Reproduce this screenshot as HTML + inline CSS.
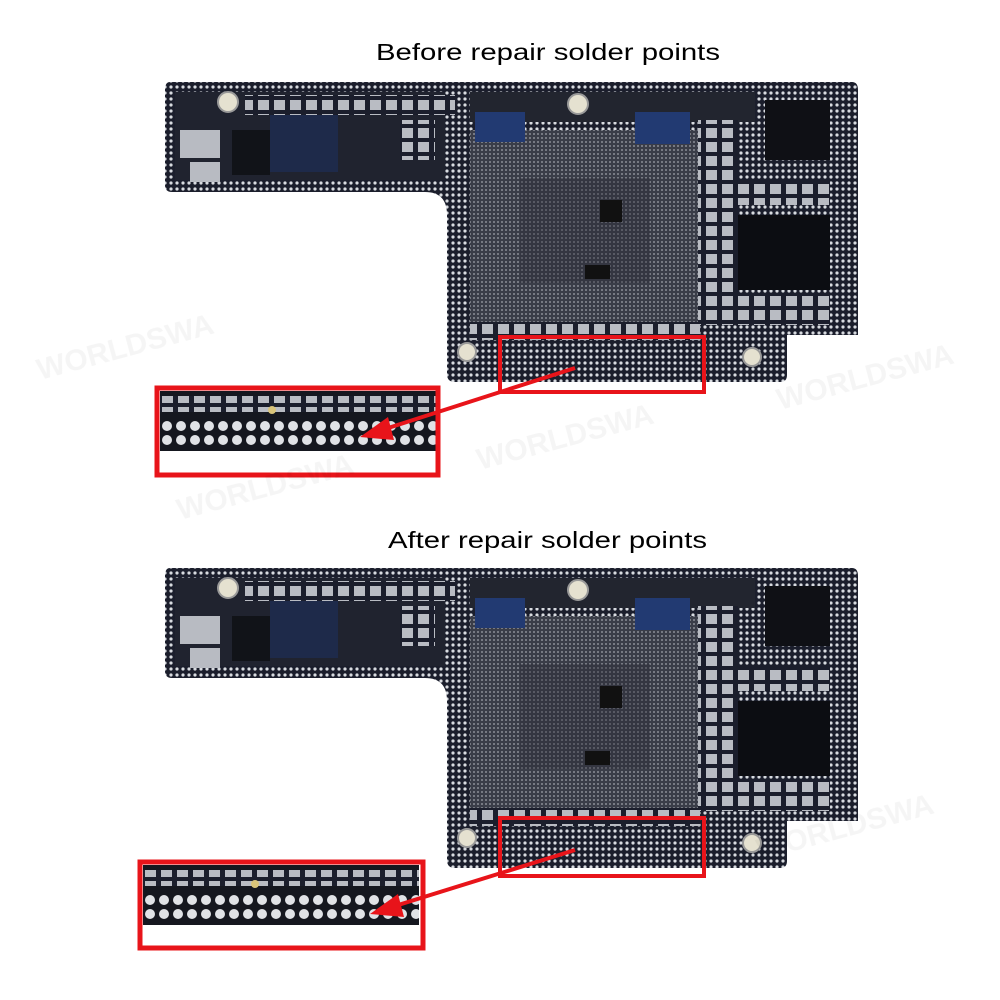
<!DOCTYPE html>
<html><head><meta charset="utf-8"><style>
html,body{margin:0;padding:0;background:#fff;width:1000px;height:1000px;overflow:hidden}
svg{display:block}
</style></head><body>
<svg width="1000" height="1000" viewBox="0 0 1000 1000" xmlns="http://www.w3.org/2000/svg">
<defs>
<pattern id="dots" width="6" height="6" patternUnits="userSpaceOnUse"><rect width="6" height="6" fill="#1b1e2c"/><circle cx="3" cy="3" r="1.6" fill="#d8dbe0"/></pattern>
<pattern id="grid" width="4" height="4" patternUnits="userSpaceOnUse"><rect width="4" height="4" fill="#3a3d48"/><circle cx="2" cy="2" r="1" fill="#8a8d96"/></pattern>
<pattern id="bigdots" width="14" height="14" patternUnits="userSpaceOnUse"><rect width="14" height="14" fill="#15171f"/><circle cx="7" cy="7" r="5" fill="#e0e2e6"/></pattern>
<pattern id="comps" width="16" height="14" patternUnits="userSpaceOnUse"><rect width="16" height="14" fill="#1b1e2c"/><rect x="2" y="2" width="11" height="10" fill="#b9bcc3"/></pattern>
<g id="board">
  <path d="M170,82 L852,82 Q858,82 858,90 L858,335 L787,335 L787,375 Q787,382 780,382 L455,382 Q447,382 447,374 L447,215 Q447,192 425,192 L172,192 Q165,192 165,185 L165,90 Q165,82 170,82Z" fill="url(#dots)"/>
  <rect x="175" y="92" width="270" height="88" fill="#20232f"/>
  <rect x="470" y="92" width="285" height="30" fill="#22252f"/>
  <rect x="470" y="130" width="228" height="196" fill="url(#grid)"/>
  <rect x="520" y="178" width="130" height="105" fill="#2a2c36"/>
  <rect x="520" y="178" width="130" height="105" fill="url(#grid)" opacity="0.6"/>
  <rect x="600" y="200" width="22" height="22" fill="#111"/>
  <rect x="585" y="265" width="25" height="14" fill="#111"/>
  <rect x="270" y="110" width="68" height="62" fill="#1e2a4a"/>
  <rect x="232" y="130" width="38" height="45" fill="#111318"/>
  <rect x="475" y="112" width="50" height="30" fill="#223a72"/>
  <rect x="635" y="112" width="55" height="32" fill="#223a72"/>
  <rect x="765" y="100" width="65" height="60" fill="#0f1015"/>
  <rect x="735" y="215" width="95" height="75" fill="#0c0d12"/>
  <rect x="698" y="120" width="40" height="205" fill="url(#comps)"/>
  <rect x="730" y="180" width="100" height="25" fill="url(#comps)"/>
  <rect x="730" y="295" width="100" height="30" fill="url(#comps)"/>
  <rect x="245" y="95" width="210" height="20" fill="url(#comps)"/>
  <rect x="180" y="130" width="40" height="28" fill="#b8bbc2"/>
  <rect x="190" y="162" width="30" height="20" fill="#b8bbc2"/>
  <rect x="400" y="120" width="35" height="40" fill="url(#comps)"/>
  <rect x="470" y="322" width="230" height="18" fill="url(#comps)"/>
  <circle cx="228" cy="102" r="10" fill="#e5e1d0" stroke="#999" stroke-width="2"/>
  <circle cx="578" cy="104" r="10" fill="#e5e1d0" stroke="#999" stroke-width="2"/>
  <circle cx="467" cy="352" r="9" fill="#e5e1d0" stroke="#999" stroke-width="2"/>
  <circle cx="752" cy="357" r="9" fill="#e5e1d0" stroke="#999" stroke-width="2"/>
  <rect x="500" y="355" width="205" height="25" fill="url(#dots)"/>
</g>
<g id="inset">
  <rect x="0" y="0" width="276" height="60" fill="#15171f"/>
  <rect x="0" y="5" width="276" height="16" fill="url(#comps)"/>
  <rect x="0" y="26" width="276" height="30" fill="url(#bigdots)"/>
  <circle cx="112" cy="19" r="4" fill="#d9c47a"/>
</g>
</defs>

<text x="376" y="60" textLength="344" lengthAdjust="spacingAndGlyphs" font-family="Liberation Sans, sans-serif" font-size="23" fill="#000">Before repair solder points</text>
<use href="#board"/>
<rect x="500" y="337" width="204" height="55" fill="none" stroke="#e8141a" stroke-width="4"/>
<use href="#inset" x="160" y="391"/>
<rect x="157" y="388" width="281" height="87" fill="none" stroke="#e8141a" stroke-width="5"/>
<line x1="575" y1="368" x2="385" y2="429" stroke="#e8141a" stroke-width="4"/>
<polygon points="360,437 388,417 394,440" fill="#e8141a"/>

<text x="388" y="548" textLength="319" lengthAdjust="spacingAndGlyphs" font-family="Liberation Sans, sans-serif" font-size="23" fill="#000">After repair solder points</text>
<use href="#board" y="486"/>
<rect x="500" y="818" width="204" height="58" fill="none" stroke="#e8141a" stroke-width="4"/>
<use href="#inset" x="143" y="865"/>
<rect x="140" y="862" width="283" height="86" fill="none" stroke="#e8141a" stroke-width="5"/>
<line x1="575" y1="850" x2="395" y2="906" stroke="#e8141a" stroke-width="4"/>
<polygon points="370,914 398,894 404,917" fill="#e8141a"/>

<g font-family="Liberation Sans, sans-serif" font-size="30" fill="#000" opacity="0.04" font-weight="bold">
<text x="40" y="380" transform="rotate(-15 40 380)">WORLDSWA</text>
<text x="480" y="470" transform="rotate(-15 480 470)">WORLDSWA</text>
<text x="780" y="410" transform="rotate(-15 780 410)">WORLDSWA</text>
<text x="180" y="520" transform="rotate(-15 180 520)">WORLDSWA</text>
<text x="760" y="860" transform="rotate(-15 760 860)">WORLDSWA</text>
</g>
</svg>
</body></html>
